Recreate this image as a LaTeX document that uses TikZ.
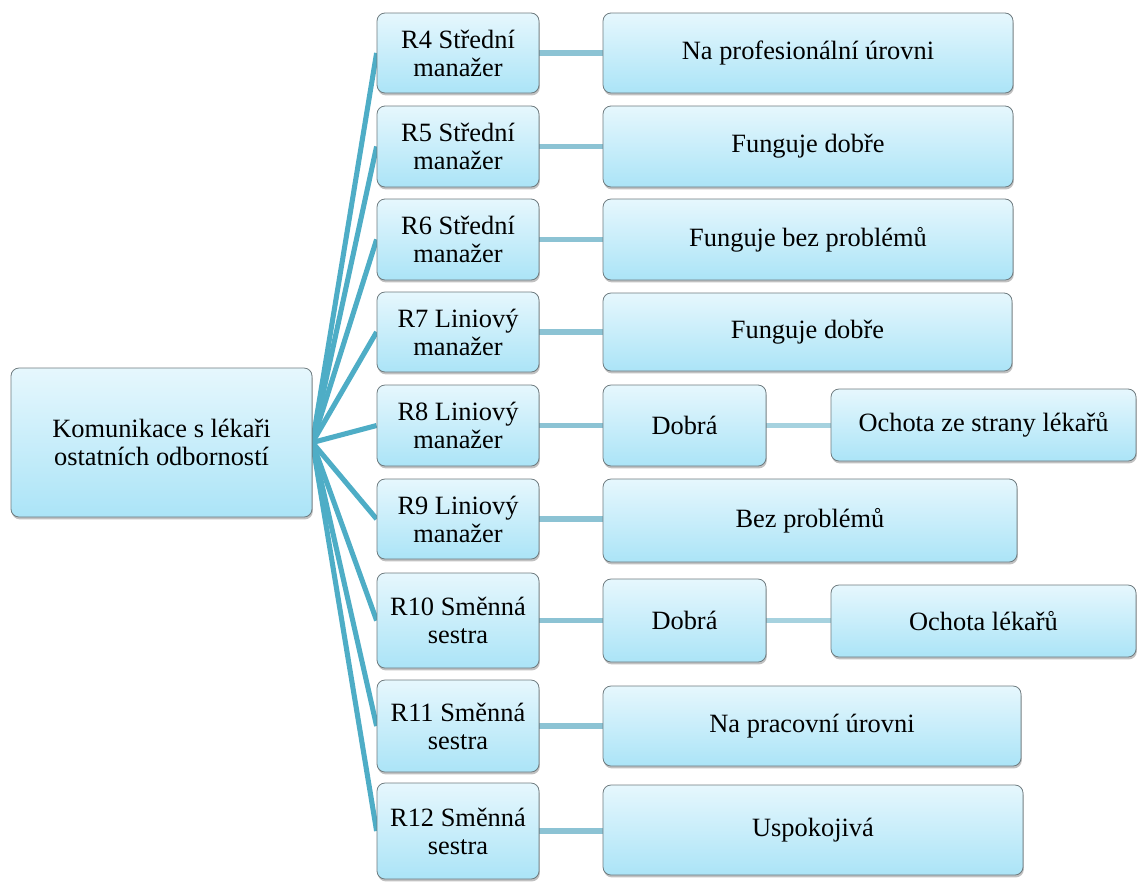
\documentclass[tikz,border=0pt]{standalone}
\usepackage{fontspec}
\setmainfont{Liberation Serif}
\usetikzlibrary{shadows}
\definecolor{boxtop}{HTML}{E6F7FD}
\definecolor{boxbot}{HTML}{ABE4F7}
\definecolor{boxline}{HTML}{6E7B7F}
\definecolor{linkA}{HTML}{4EADC6}
\definecolor{linkB}{HTML}{8CC3D4}
\definecolor{linkC}{HTML}{A6D2DF}
\pgfdeclarelayer{bg}
\pgfsetlayers{bg,main}
\tikzset{
  box/.style={draw=boxline, line width=0.6pt, rounded corners=6pt,
    top color=boxtop, bottom color=boxbot, align=center, inner sep=2pt,
    font=\rmfamily\fontsize{19.8}{21}\selectfont,
    drop shadow={shadow xshift=0.6pt, shadow yshift=-1.8pt, opacity=0.35, fill=black!70}},
  sz/.style 2 args={minimum width=#1*0.75pt, minimum height=#2*0.75pt},
  linkone/.style={draw=linkA, line width=3.8pt},
  linktwo/.style={draw=linkB, line width=3.8pt},
  linkthree/.style={draw=linkC, line width=3.8pt}
}
\begin{document}
\begin{tikzpicture}[x=0.75pt, y=-0.75pt]
\useasboundingbox (0,0) rectangle (1137,882);
% root
\node[box, sz={301}{149}] (root) at (161.5,442.5) {Komunikace s lékaři\\ostatních odborností};
% level 1
\node[box, sz={162}{80}] (r4) at (458,53) {R4 Střední\\manažer};
\node[box, sz={162}{81}] (r5) at (458,146.5) {R5 Střední\\manažer};
\node[box, sz={162}{81}] (r6) at (458,239.5) {R6 Střední\\manažer};
\node[box, sz={162}{80}] (r7) at (458,332) {R7 Liniový\\manažer};
\node[box, sz={162}{81}] (r8) at (458,425.5) {R8 Liniový\\manažer};
\node[box, sz={162}{80}] (r9) at (458,519) {R9 Liniový\\manažer};
\node[box, sz={162}{95}] (r10) at (458,620.5) {R10 Směnná\\sestra};
\node[box, sz={162}{92}] (r11) at (458,726) {R11 Směnná\\sestra};
\node[box, sz={162}{96}] (r12) at (458,831) {R12 Směnná\\sestra};
% level 2
\node[box, sz={410}{80}] (a4) at (808,53) {Na profesionální úrovni};
\node[box, sz={410}{81}] (a5) at (808,146.5) {Funguje dobře};
\node[box, sz={410}{81}] (a6) at (808,239.5) {Funguje bez problémů};
\node[box, sz={409}{78}] (a7) at (807.5,332) {Funguje dobře};
\node[box, sz={163}{81}] (a8) at (684.5,425.5) {Dobrá};
\node[box, sz={414}{83}] (a9) at (810,520.5) {Bez problémů};
\node[box, sz={163}{83}] (a10) at (684.5,620.5) {Dobrá};
\node[box, sz={418}{80}] (a11) at (812,726) {Na pracovní úrovni};
\node[box, sz={420}{90}] (a12) at (813,830) {Uspokojivá};
% level 3
\node[box, sz={305}{72}] (b8) at (983.5,425) {Ochota ze strany lékařů};
\node[box, sz={305}{72}] (b10) at (983.5,621) {Ochota lékařů};
\begin{pgfonlayer}{bg}
\foreach \n in {r4,r5,r6,r7,r8,r9,r10,r11,r12}
  \draw[linkone] (root.east) -- (\n.west);
\foreach \n in {4,...,12}
  \draw[linktwo] (r\n.east) -- (r\n.east -| a\n.west);
\draw[linkthree] (a8.east) -- (a8.east -| b8.west);
\draw[linkthree] (a10.east) -- (a10.east -| b10.west);
\end{pgfonlayer}
\end{tikzpicture}
\end{document}
